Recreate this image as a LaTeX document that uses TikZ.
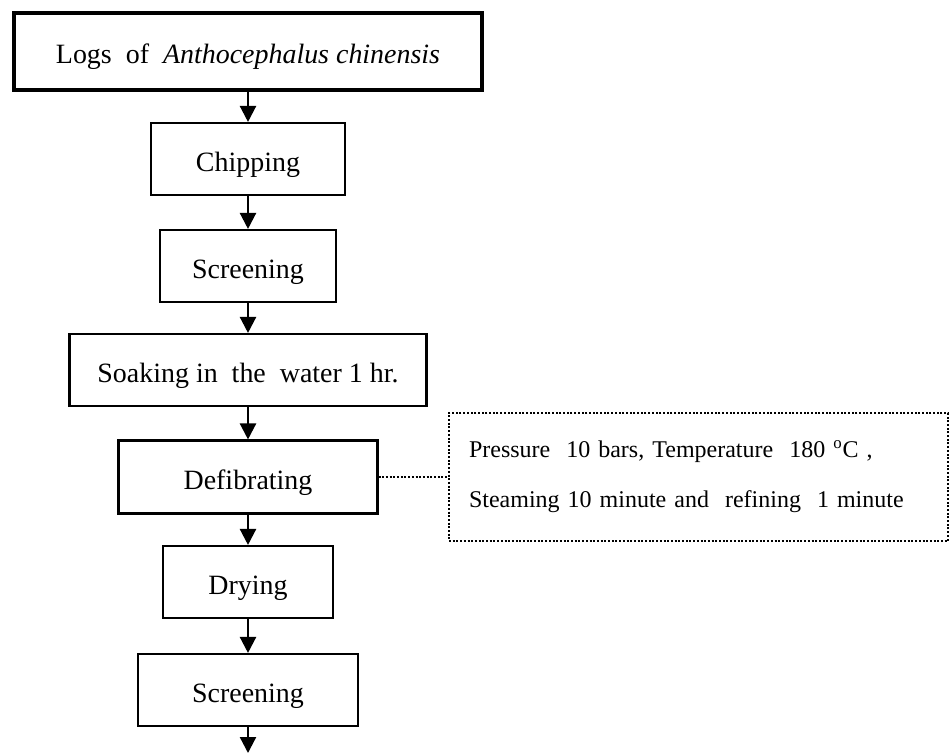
\documentclass[tikz,border=0pt]{standalone}
\usepackage{fontspec}
\setmainfont{Liberation Serif}
\usetikzlibrary{arrows.meta}

\begin{document}
\begin{tikzpicture}[
  procbox/.style={draw,line width=1.2pt,minimum height=1.44cm,inner sep=0pt,
    text height=0.6cm,text depth=0.12cm,font=\fontsize{15.9}{19}\selectfont},
  flow/.style={line width=1.3pt,-{Triangle[length=0.32cm,width=0.32cm]}},
  link/.style={line width=1.1pt,dash pattern=on 0.04cm off 0.034cm}
]
\useasboundingbox (0,0) rectangle (19,-15.06);
\node[procbox,line width=1.9pt,minimum width=9.36cm,minimum height=1.54cm] (logs) at (4.96,-1.03)
  {Logs\ \ of\ \ \textit{Anthocephalus chinensis}};
\node[procbox,minimum width=3.88cm] (chip) at (4.96,-3.18) {Chipping};
\node[procbox,minimum width=3.52cm] (screen1) at (4.96,-5.32) {Screening};
\node[procbox,minimum width=7.14cm] (soak) at (4.96,-7.40) {Soaking in\ \ the\ \ water 1 hr.};
\node[procbox,minimum width=5.18cm,minimum height=1.46cm] (defib) at (4.96,-9.54) {Defibrating};
\node[procbox,minimum width=3.40cm] (dry) at (4.96,-11.64) {Drying};
\node[procbox,minimum width=4.40cm] (screen2) at (4.96,-13.80) {Screening};
\coordinate (out) at (4.96,-15.06);
\node[draw,link,inner xsep=0.4cm,inner ysep=0pt,text width=9.18cm,align=left,minimum height=2.56cm,
  font=\fontsize{13.66}{28.45}\selectfont] (note) at (13.97,-9.54)
  {Pressure\ \ 10 bars, Temperature\ \ 180 \textsuperscript{o}C ,\\
   Steaming 10 minute and\ \ refining\ \ 1 minute};
\draw[flow] (logs) -- (chip);
\draw[flow] (chip) -- (screen1);
\draw[flow] (screen1) -- (soak);
\draw[flow] (soak) -- (defib);
\draw[flow] (defib) -- (dry);
\draw[flow] (dry) -- (screen2);
\draw[flow] (screen2) -- (out);
\draw[link] (defib) -- (note);
\end{tikzpicture}
\end{document}
